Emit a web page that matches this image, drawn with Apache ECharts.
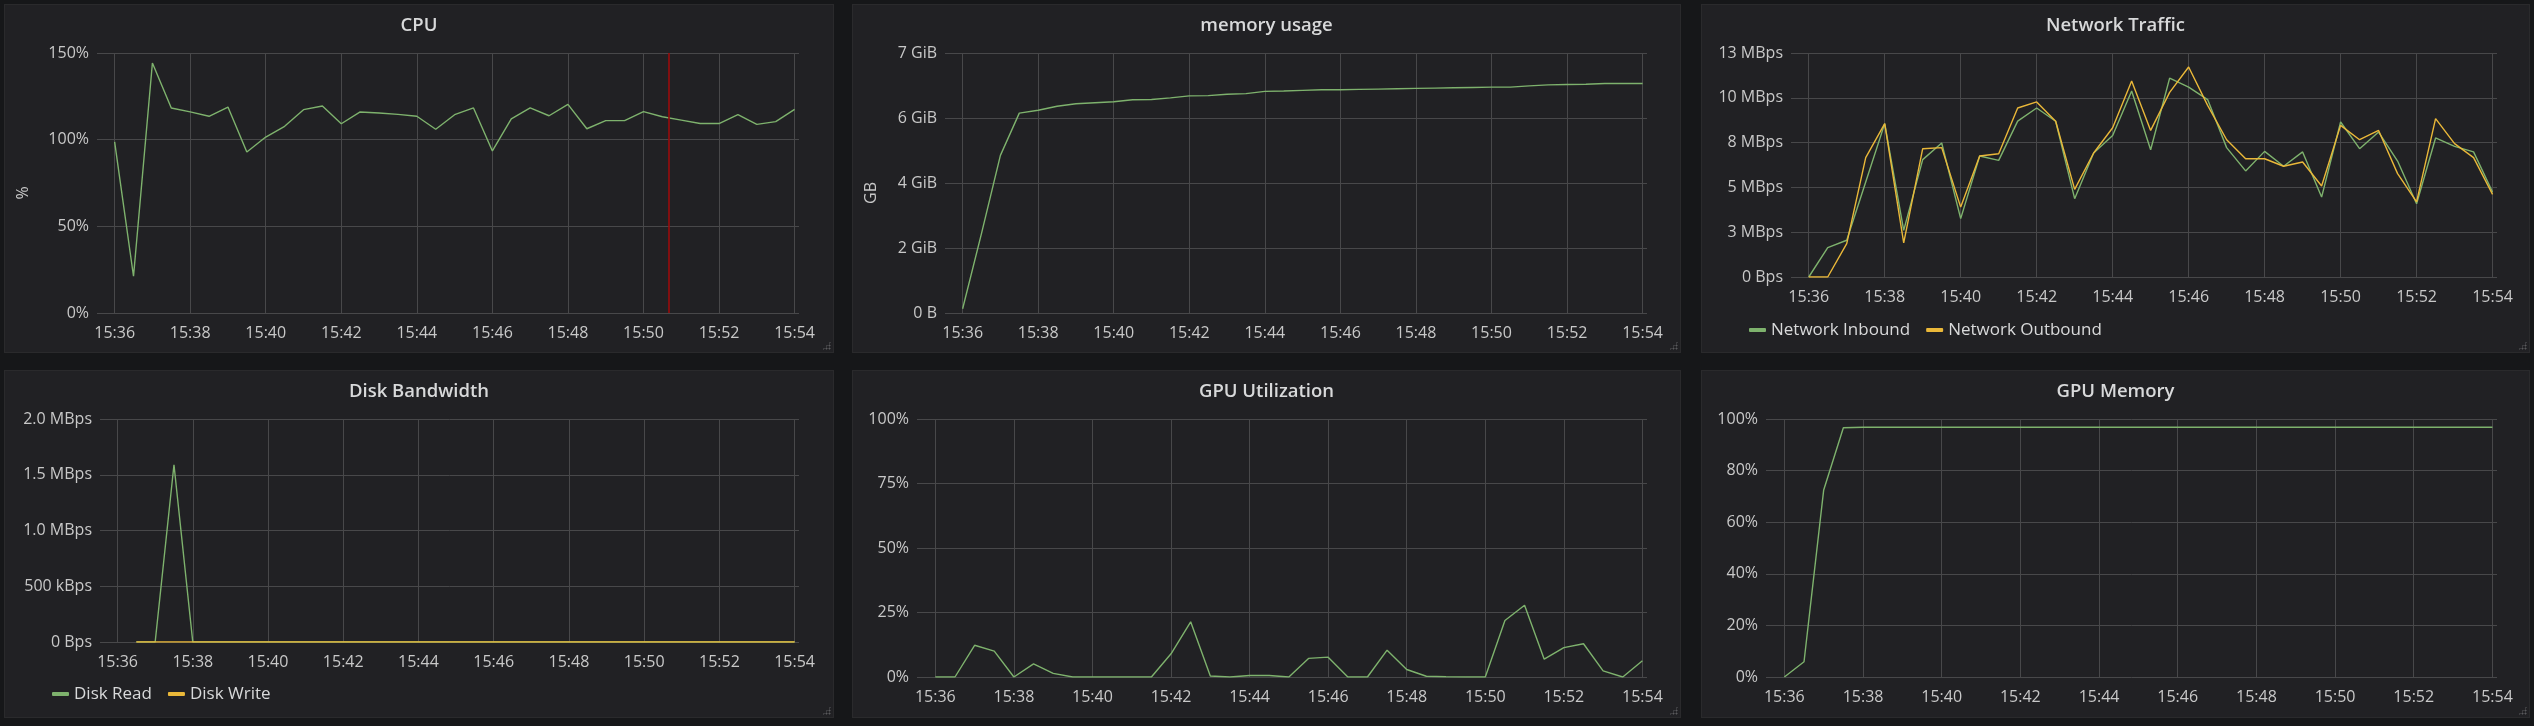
<!DOCTYPE html>
<html>
<head>
<meta charset="utf-8">
<script src="https://cdn.jsdelivr.net/npm/echarts@6/dist/echarts.min.js"></script>
<style>
html,body{margin:0;padding:0;background:#161719;width:2534px;height:726px;overflow:hidden;}
.panel{position:absolute;background:#212124;box-shadow:inset 0 0 0 1px #2a2a2c;}
.chart{position:absolute;left:0;top:0;width:100%;height:100%;}
.grip{position:absolute;right:3px;bottom:3px;width:9px;height:9px;
  background-image:radial-gradient(circle,#5a5a5c 0.9px,transparent 1.1px);background-size:3px 3px;
  clip-path:polygon(100% 0,100% 100%,0 100%);}
</style>
</head>
<body>
<div class="panel" style="left:4px;top:4px;width:830px;height:349px"><div class="chart" id="c1"></div><div class="grip"></div></div>
<div class="panel" style="left:852px;top:4px;width:829px;height:349px"><div class="chart" id="c2"></div><div class="grip"></div></div>
<div class="panel" style="left:1701px;top:4px;width:829px;height:349px"><div class="chart" id="c3"></div><div class="grip"></div></div>
<div class="panel" style="left:4px;top:370px;width:830px;height:348px"><div class="chart" id="c4"></div><div class="grip"></div></div>
<div class="panel" style="left:852px;top:370px;width:829px;height:348px"><div class="chart" id="c5"></div><div class="grip"></div></div>
<div class="panel" style="left:1701px;top:370px;width:829px;height:348px"><div class="chart" id="c6"></div><div class="grip"></div></div>
<script>
// ---------- data ----------
const times = ['15:36:00','15:36:30','15:37:00','15:37:30','15:38:00','15:38:30','15:39:00','15:39:30',
  '15:40:00','15:40:30','15:41:00','15:41:30','15:42:00','15:42:30','15:43:00','15:43:30',
  '15:44:00','15:44:30','15:45:00','15:45:30','15:46:00','15:46:30','15:47:00','15:47:30',
  '15:48:00','15:48:30','15:49:00','15:49:30','15:50:00','15:50:30','15:51:00','15:51:30',
  '15:52:00','15:52:30','15:53:00','15:53:30','15:54:00'];
const timeTicks = ['15:36','15:38','15:40','15:42','15:44','15:46','15:48','15:50','15:52','15:54'];
const rangeStart = '15:35:32';
const rangeEnd = '15:54:07';
const cpuAnnotation = '15:50:41';

const cpuPercent = [98.7,21.2,144.2,118.3,116,113.5,118.8,92.9,101.5,107.7,117.3,119.4,109.2,116,115.4,114.6,
  113.5,106,114.4,118.3,93.5,112,118.3,113.8,120.4,106.3,111,111,116.2,113.2,111.3,109.3,109.3,114.4,108.8,110.4,117.5];
const memoryGB = [0.13,2.45,4.85,6.15,6.24,6.36,6.44,6.47,6.5,6.56,6.57,6.62,6.68,6.69,6.73,6.75,6.82,6.83,6.85,
  6.87,6.87,6.88,6.89,6.9,6.91,6.92,6.93,6.94,6.95,6.95,6.99,7.02,7.03,7.04,7.06,7.06,7.06];
const netInboundMBps = [0,1.64,2.05,5.3,8.56,2.6,6.55,7.48,3.26,6.75,6.51,8.7,9.43,8.69,4.37,6.92,7.9,10.38,7.1,
  11.1,10.6,9.9,7.22,5.92,7.01,6.18,6.98,4.46,8.65,7.16,8.09,6.47,4.09,7.76,7.29,6.98,4.74];
const netOutboundMBps = [0,0,1.86,6.66,8.56,1.9,7.16,7.22,3.9,6.75,6.88,9.43,9.77,8.69,4.89,6.92,8.33,10.94,8.18,
  10.3,11.72,9.58,7.66,6.6,6.6,6.18,6.42,5.08,8.46,7.66,8.18,5.77,4.19,8.84,7.44,6.66,4.61];
const diskReadMBps = [null,0,0,1.59,0,0,0,0,0,0,0,0,0,0,0,0,0,0,0,0,0,0,0,0,0,0,0,0,0,0,0,0,0,0,0,0,0];
const diskWriteMBps = [null,0,0,0,0,0,0,0,0,0,0,0,0,0,0,0,0,0,0,0,0,0,0,0,0,0,0,0,0,0,0,0,0,0,0,0,0];
const gpuUtilPercent = [0,0,12.3,10,0,5.1,1.4,0,0,0,0,0,9,21.4,0.4,0,0.6,0.6,0,7.2,7.7,0,0,10.4,2.9,0.3,0.1,0,0,
  21.9,27.8,6.9,11.4,12.9,2.4,0,6.3];
const gpuMemPercent = [0,5.9,72.5,96.6,96.8,96.8,96.8,96.8,96.8,96.8,96.8,96.8,96.8,96.8,96.8,96.8,96.8,96.8,96.8,
  96.8,96.8,96.8,96.8,96.8,96.8,96.8,96.8,96.8,96.8,96.8,96.8,96.8,96.8,96.8,96.8,96.8,96.8];

// ---------- helpers ----------
const GREEN = '#7EB26D', YELLOW = '#EAB839';
const FONT = 'Open Sans';
function toMin(t){ const p = t.split(':').map(Number); return p[1] + (p[2]||0)/60; }
const xs = times.map(toMin);
const tickVals = timeTicks.map(toMin);
const xMin = toMin(rangeStart), xMax = toMin(rangeEnd);
function pad(n){ return (n<10?'0':'')+n; }
function fmtTime(v){ return '15:' + pad(Math.round(v)); }
function pairs(vals){ return vals.map((v,i)=>[xs[i], v===null?'-':v]); }

function lineSeries(name, vals, color, extra){
  return Object.assign({
    name, type:'line', data: pairs(vals), showSymbol:false, symbol:'none',
    lineStyle:{width:1.4,color}, itemStyle:{color}, animation:false, silent:true
  }, extra||{});
}

function build(cfg){
  const opt = {
    animation:false,
    textStyle:{fontFamily:FONT},
    title:{text:cfg.title, left:'center', top:12, padding:0,
      textStyle:{color:'#d8d9da', fontSize:18.5, fontWeight:600, fontFamily:FONT, lineHeight:20}},
    grid:cfg.grid,
    xAxis:{type:'value', min:xMin, max:xMax,
      axisLine:{show:false}, axisTick:{show:false, customValues:tickVals},
      axisLabel:{customValues:tickVals, formatter:fmtTime, color:'#c8c8c8', fontSize:16, margin:12, fontFamily:FONT},
      splitLine:{show:true, lineStyle:{color:'#48484a', width:1}}},
    yAxis:{type:'value', min:cfg.yMin, max:cfg.yMax, interval:cfg.yInterval,
      axisLine:{show:false}, axisTick:{show:false},
      axisLabel:{formatter:cfg.yFmt, color:'#c8c8c8', fontSize:16, margin:8, fontFamily:FONT},
      splitLine:{show:true, lineStyle:{color:'#48484a', width:1}}},
    series:cfg.series
  };
  if (cfg.yName){
    opt.yAxis.name = cfg.yName; opt.yAxis.nameLocation='middle'; opt.yAxis.nameGap=cfg.nameGap;
    opt.yAxis.nameRotate = 90;
    opt.yAxis.nameTextStyle = {color:'#c8c8c8', fontSize:16, fontFamily:FONT, padding:[0,20,0,0]};
  }
  if (cfg.legend){
    opt.legend = {data:cfg.legend, left:48, top:cfg.legendTop, padding:0, icon:'roundRect',
      itemWidth:17, itemHeight:4, itemGap:16,
      textStyle:{color:'#d8d9da', fontSize:17, fontFamily:FONT, lineHeight:20}};
  }
  return opt;
}

function init(id, opt){ const c = echarts.init(document.getElementById(id), null, {renderer:'canvas'}); c.setOption(opt); }

// CPU
init('c1', build({
  title:'CPU', grid:{left:93,right:35,top:49,bottom:40},
  yMin:0, yMax:150, yInterval:50, yFmt:v=>v+'%', yName:'%', nameGap:66,
  series:[lineSeries('CPU', cpuPercent, GREEN, {
    markLine:{silent:true, symbol:['none','none'], label:{show:false}, animation:false,
      lineStyle:{color:'#9a0c0c', width:1.6, type:'solid'}, data:[{xAxis:toMin(cpuAnnotation)}]}
  })]
}));

// memory
const GIB = Math.pow(2,30);
init('c2', build({
  title:'memory usage', grid:{left:93,right:34,top:49,bottom:40},
  yMin:0, yMax:8, yInterval:2, yFmt:v=> v===0 ? '0 B' : (v*1e9/GIB).toFixed(0)+' GiB', yName:'GB', nameGap:66,
  series:[lineSeries('memory', memoryGB, GREEN)]
}));

// network
init('c3', build({
  title:'Network Traffic', grid:{left:90,right:33,top:49,bottom:76},
  yMin:0, yMax:12.5, yInterval:2.5, yFmt:v=> v===0 ? '0 Bps' : Math.round(v)+' MBps',
  legend:['Network Inbound','Network Outbound'], legendTop:316,
  series:[lineSeries('Network Inbound', netInboundMBps, GREEN), lineSeries('Network Outbound', netOutboundMBps, YELLOW)]
}));

// disk
init('c4', build({
  title:'Disk Bandwidth', grid:{left:96,right:35,top:49,bottom:76},
  yMin:0, yMax:2, yInterval:0.5,
  yFmt:v=> v===0 ? '0 Bps' : (v<1 ? Math.round(v*1000)+' kBps' : v.toFixed(1)+' MBps'),
  legend:['Disk Read','Disk Write'], legendTop:314,
  series:[lineSeries('Disk Read', diskReadMBps, GREEN), lineSeries('Disk Write', diskWriteMBps, YELLOW)]
}));

// GPU utilization
init('c5', build({
  title:'GPU Utilization', grid:{left:65,right:34,top:49,bottom:41},
  yMin:0, yMax:100, yInterval:25, yFmt:v=>v+'%',
  series:[lineSeries('GPU Utilization', gpuUtilPercent, GREEN)]
}));

// GPU memory
init('c6', build({
  title:'GPU Memory', grid:{left:65,right:33,top:49,bottom:41},
  yMin:0, yMax:100, yInterval:20, yFmt:v=>v+'%',
  series:[lineSeries('GPU Memory', gpuMemPercent, GREEN)]
}));
</script>
</body>
</html>
